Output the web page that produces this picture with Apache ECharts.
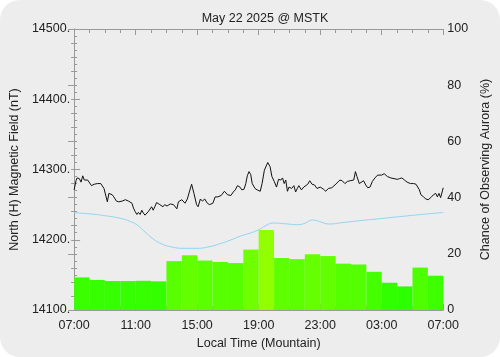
<!DOCTYPE html>
<html>
<head>
<meta charset="utf-8">
<script src="https://cdn.jsdelivr.net/npm/echarts@6/dist/echarts.min.js"></script>
<style>
  html, body { margin: 0; padding: 0; background: #ffffff; }
  #wrap { position: absolute; left: 0; top: 0; width: 500px; height: 357px; background: #ededed; border-radius: 20px; overflow: hidden; }
  #chart { width: 500px; height: 357px; }
</style>
</head>
<body>
<div id="wrap"><div id="chart"></div></div>
<script>
// hours since 07:00 local time, and H component (nT)
var magHours = [0, 0.08, 0.12, 0.19, 0.34, 0.45, 0.56, 0.66, 0.77, 0.88, 0.98, 1.13, 1.30, 1.52, 1.73, 1.84, 1.94, 2.05,
  2.16, 2.26, 2.37, 2.48, 2.58, 2.75, 2.90, 3.12, 3.33, 3.54, 3.76, 3.86, 3.97, 4.08, 4.18, 4.29, 4.40, 4.50, 4.61,
  4.72, 4.82, 4.93, 5.04, 5.14, 5.25, 5.36, 5.46, 5.57, 5.68, 5.78, 5.89, 6.04, 6.25, 6.46, 6.68, 6.78, 7.00, 7.21,
  7.36, 7.49, 7.64, 7.79, 7.96, 8.06, 8.21, 8.34, 8.49, 8.66, 8.81, 9.02, 9.17, 9.34, 9.56, 9.77, 9.98, 10.19, 10.35,
  10.48, 10.62, 10.78, 10.90, 11.05, 11.16, 11.26, 11.37, 11.48, 11.58, 11.76, 11.90, 12.10, 12.22, 12.37, 12.59,
  12.74, 12.86, 13.01, 13.16, 13.29, 13.44, 13.55, 13.66, 13.76, 13.87, 13.97, 14.14, 14.29, 14.40, 14.51, 14.61,
  14.78, 14.93, 15.04, 15.19, 15.32, 15.47, 15.63, 15.79, 16.00, 16.21, 16.36, 16.53, 16.75, 16.96, 17.07, 17.28,
  17.43, 17.60, 17.77, 17.95, 18.07, 18.18, 18.29, 18.39, 18.54, 18.67, 18.82, 18.96, 19.09, 19.24, 19.39, 19.56,
  19.73, 19.99, 20.16, 20.37, 20.59, 20.80, 21.01, 21.16, 21.31, 21.48, 21.65, 21.87, 22.08, 22.23, 22.34, 22.45,
  22.55, 22.72, 22.87, 23.02, 23.19, 23.36, 23.51, 23.62, 23.72, 23.83, 24.00];
var magValues = [14271, 14271, 14284, 14288, 14287, 14282, 14291, 14285, 14283, 14285, 14284, 14277, 14279, 14280, 14280, 14278, 14273, 14271,
  14254, 14266, 14268, 14264, 14261, 14255, 14254, 14255, 14257, 14255, 14252, 14245, 14240, 14236, 14239, 14236, 14242, 14238, 14235,
  14234, 14240, 14242, 14247, 14242, 14247, 14253, 14254, 14250, 14251, 14247, 14250, 14248, 14251, 14250, 14244, 14254, 14257, 14252,
  14258, 14268, 14279, 14266, 14250, 14247, 14258, 14255, 14258, 14252, 14250, 14252, 14261, 14261, 14263, 14269, 14264, 14263, 14268,
  14271, 14277, 14275, 14271, 14272, 14280, 14291, 14297, 14293, 14280, 14273, 14271, 14269, 14280, 14299, 14310,
  14304, 14290, 14283, 14275, 14286, 14285, 14288, 14280, 14285, 14269, 14275, 14273, 14277, 14268, 14273, 14277,
  14271, 14275, 14274, 14279, 14284, 14279, 14278, 14273, 14275, 14272, 14269, 14273, 14274, 14278, 14280, 14285,
  14284, 14280, 14283, 14284, 14283, 14285, 14297, 14290, 14280, 14278, 14284, 14278, 14274, 14275, 14283, 14288,
  14292, 14292, 14294, 14290, 14288, 14287, 14286, 14287, 14288, 14285, 14282, 14280, 14280, 14279, 14278, 14271,
  14264, 14261, 14258, 14257, 14260, 14264, 14266, 14261, 14266, 14260, 14274];

// quiet-day baseline (light blue)
var baseHours = [0, 1.09, 1.92, 3.01, 3.65, 4.10, 4.61, 5.06, 5.57, 6.21, 7.17, 7.94, 8.77, 9.54, 10.18, 10.82, 11.46,
  11.97, 12.48, 12.93, 13.89, 14.53, 15.04, 15.49, 15.94, 16.58, 17.41, 18.37, 19.65, 20.93, 22.21, 23.49, 24];
var baseValues = [14238.5, 14236.7, 14234.5, 14230.5, 14226, 14221, 14211, 14202.5, 14195.4, 14190.4, 14187.8, 14187.8, 14190,
  14194.7, 14199.6, 14205.3, 14209.6, 14213.9, 14220.3, 14223.8, 14222.4, 14221.4, 14223.8, 14228.1, 14226, 14222.4,
  14224.3, 14226.7, 14229.5, 14232.4, 14235.2, 14237.8, 14238.8];

// hourly chance of observing aurora (%)
var hourLabels = ['07', '08', '09', '10', '11', '12', '13', '14', '15', '16', '17', '18',
  '19', '20', '21', '22', '23', '00', '01', '02', '03', '04', '05', '06'];
var auroraChance = [11.6, 10.7, 10.3, 10.3, 10.4, 10.2, 17.4, 19.5, 17.6, 17.1, 16.7, 21.5,
  28.5, 18.5, 18.1, 19.8, 19.2, 16.5, 16.2, 13.6, 9.7, 8.4, 15.1, 12.2];

var chart = echarts.init(document.getElementById('chart'));

var font = 'Liberation Sans';
var fontSize = 12.5;
var textColor = '#222';
var frameColor = '#999';

function zip(xs, ys) {
  return xs.map(function (x, i) { return [x, ys[i]]; });
}

var option = {
  backgroundColor: 'transparent',
  animation: false,
  title: {
    text: 'May 22 2025 @ MSTK',
    left: 260,
    textAlign: 'center',
    top: 7,
    textStyle: { fontFamily: font, fontSize: fontSize, fontWeight: 'normal', color: textColor }
  },
  grid: { left: 73, right: 53, top: 29, bottom: 47 },
  visualMap: {
    show: false,
    type: 'continuous',
    seriesIndex: 0,
    min: 0,
    max: 100,
    inRange: { color: ['#00ff00', '#ffff00', '#ff0000'] }
  },
  xAxis: [
    {
      type: 'value',
      min: 0,
      max: 24,
      interval: 4,
      position: 'bottom',
      name: 'Local Time (Mountain)',
      nameLocation: 'middle',
      nameGap: 24,
      nameTextStyle: { fontFamily: font, fontSize: fontSize, color: textColor },
      axisLine: { lineStyle: { color: frameColor } },
      axisTick: { inside: true, length: 6, lineStyle: { color: frameColor } },
      minorTick: { show: true, splitNumber: 4, length: 4, lineStyle: { color: frameColor } },
      axisLabel: {
        fontFamily: font, fontSize: fontSize, color: textColor, margin: 9,
        formatter: function (v) {
          var h = (7 + v) % 24;
          return (h < 10 ? '0' : '') + h + ':00';
        }
      },
      splitLine: { show: false }
    },
    {
      type: 'value',
      min: 0,
      max: 24,
      interval: 4,
      position: 'top',
      axisLine: { lineStyle: { color: frameColor } },
      axisTick: { inside: true, length: 6, lineStyle: { color: frameColor } },
      minorTick: { show: true, splitNumber: 4, length: 4, lineStyle: { color: frameColor } },
      axisLabel: { show: false },
      splitLine: { show: false }
    },
    {
      type: 'category',
      data: hourLabels,
      show: false,
      boundaryGap: true
    }
  ],
  yAxis: [
    {
      type: 'value',
      min: 14100,
      max: 14500,
      interval: 100,
      position: 'left',
      name: 'North (H) Magnetic Field (nT)',
      nameLocation: 'middle',
      nameGap: 44,
      nameTextStyle: { fontFamily: font, fontSize: fontSize, color: textColor },
      axisLine: { show: true, lineStyle: { color: frameColor } },
      axisTick: { show: true, inside: true, length: 6, lineStyle: { color: frameColor } },
      minorTick: { show: true, splitNumber: 10, length: 3, lineStyle: { color: frameColor } },
      axisLabel: {
        fontFamily: font, fontSize: fontSize, color: textColor, margin: 4,
        formatter: function (v) { return v + '.'; }
      },
      splitLine: { show: false }
    },
    {
      type: 'value',
      min: 0,
      max: 100,
      interval: 20,
      position: 'right',
      name: 'Chance of Observing Aurora (%)',
      nameLocation: 'middle',
      nameGap: 16,
      nameTextStyle: { fontFamily: font, fontSize: fontSize, color: textColor },
      axisLine: { show: true, lineStyle: { color: frameColor } },
      axisTick: { show: true, inside: true, length: 6, lineStyle: { color: frameColor } },
      minorTick: { show: true, splitNumber: 4, length: 3, lineStyle: { color: frameColor } },
      axisLabel: { fontFamily: font, fontSize: fontSize, color: textColor, margin: 4 },
      splitLine: { show: false }
    }
  ],
  series: [
    {
      name: 'Aurora chance',
      type: 'bar',
      xAxisIndex: 2,
      yAxisIndex: 1,
      barCategoryGap: '0%',
      data: auroraChance,
      itemStyle: { borderWidth: 0 }
    },
    {
      name: 'Baseline',
      type: 'line',
      xAxisIndex: 0,
      yAxisIndex: 0,
      data: zip(baseHours, baseValues),
      smooth: true,
      showSymbol: false,
      lineStyle: { color: '#8fd3f0', width: 1 }
    },
    {
      name: 'H field',
      type: 'line',
      xAxisIndex: 0,
      yAxisIndex: 0,
      data: zip(magHours, magValues),
      showSymbol: false,
      lineStyle: { color: '#111', width: 1 }
    }
  ]
};

chart.setOption(option);

window.addEventListener('resize', function () {
  chart.resize();
});
</script>
</body>
</html>
